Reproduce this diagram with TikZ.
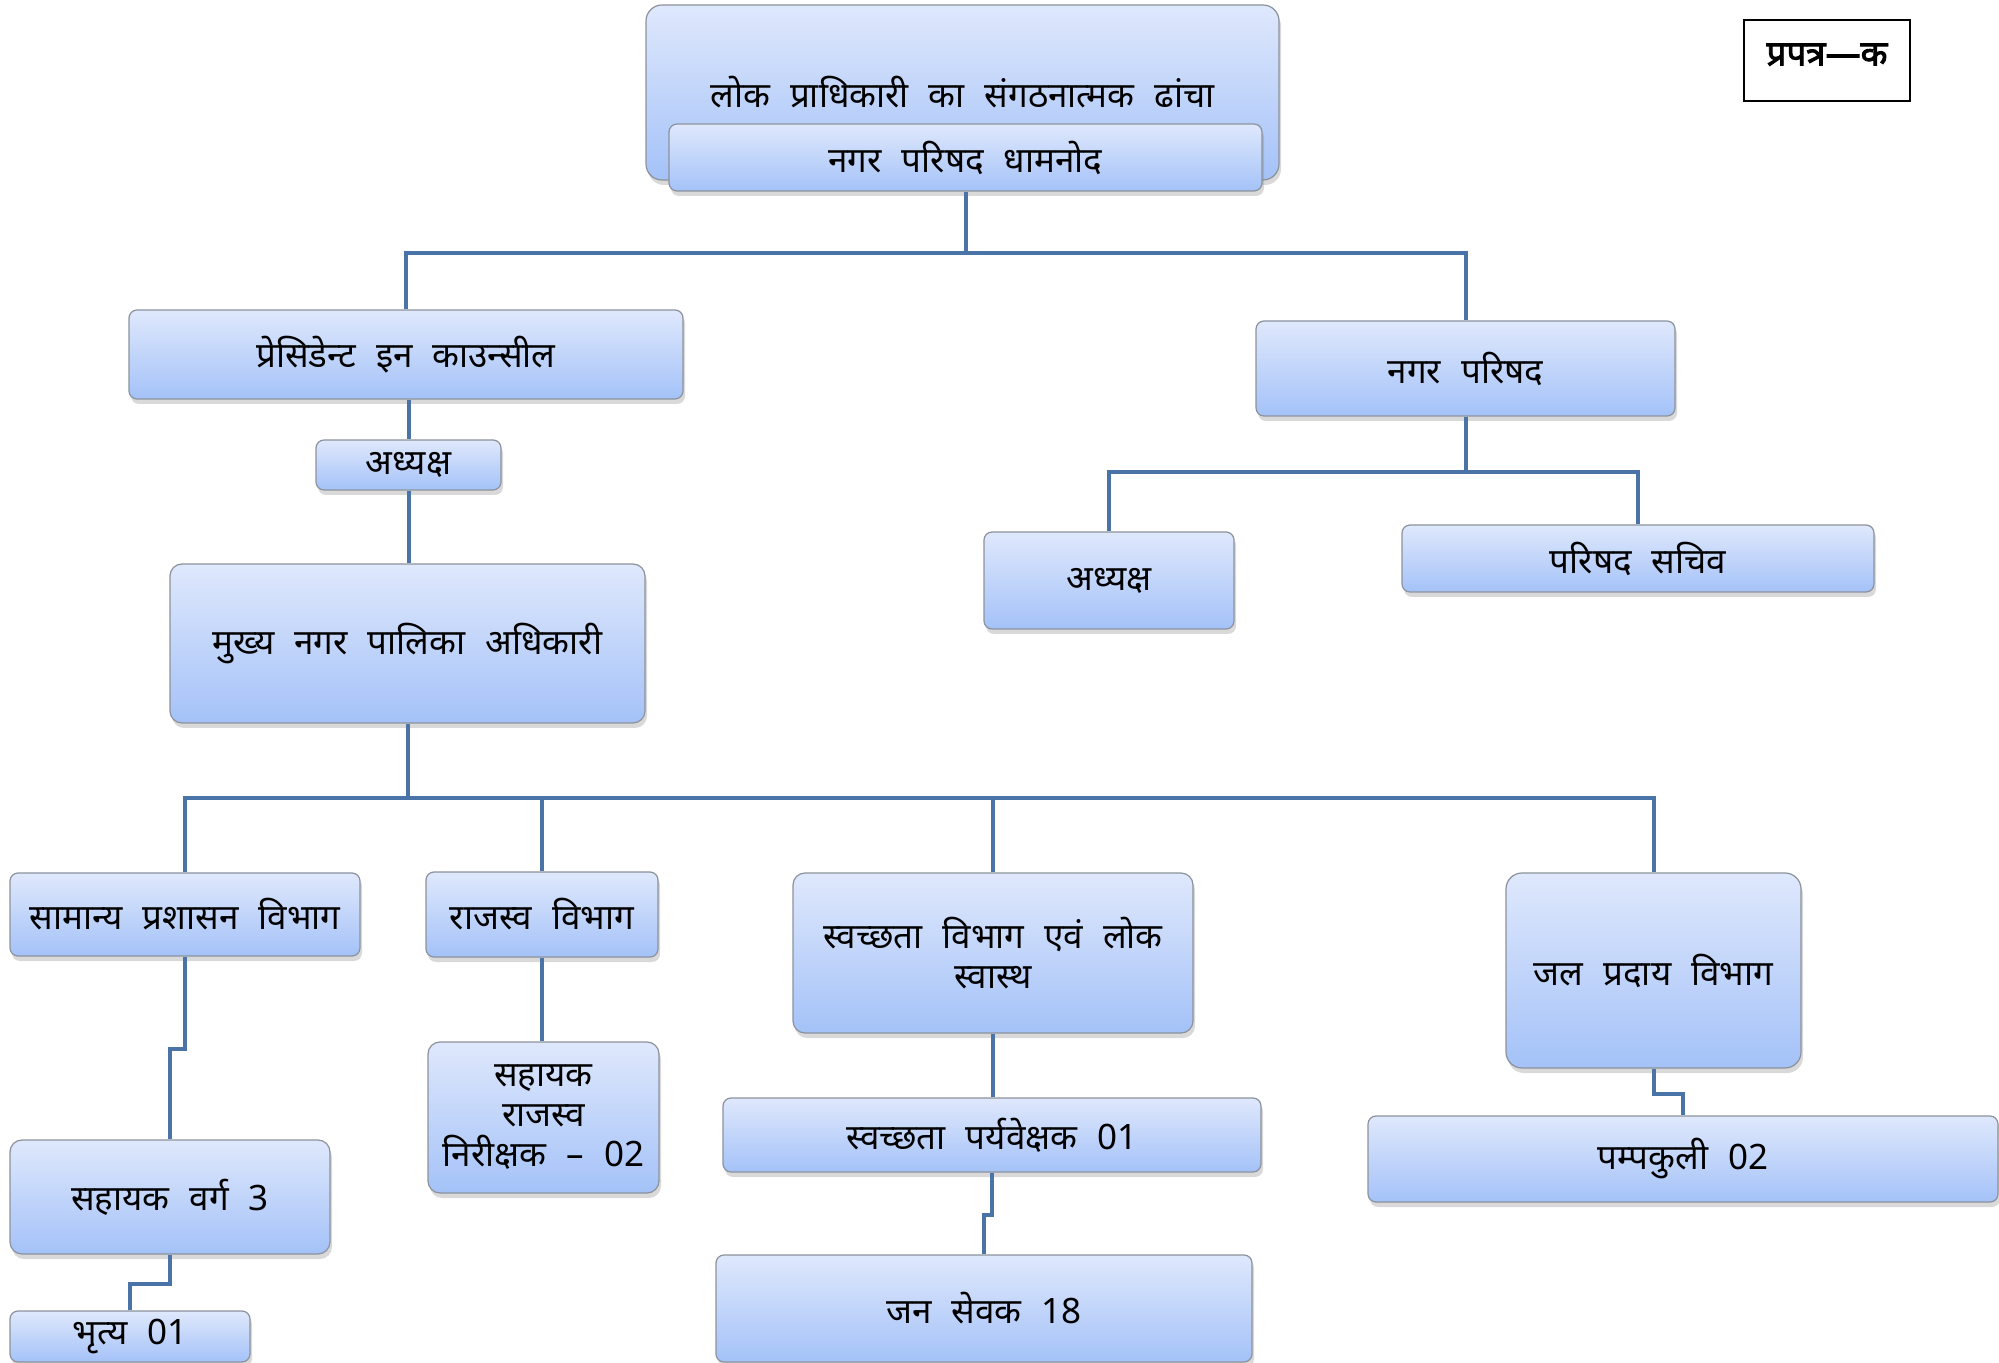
\documentclass[tikz,border=0pt]{standalone}
\usepackage{fontspec}
\setmainfont[Script=Devanagari]{Noto Sans}
\newfontfamily\formfont[Script=Devanagari, FakeBold=2.5]{Noto Sans}
\usetikzlibrary{positioning,shadows}
\definecolor{boxtop}{HTML}{DFE8FC}
\definecolor{boxbot}{HTML}{A4C2F8}
\definecolor{boxline}{HTML}{8C929C}
\definecolor{linkblue}{HTML}{4A73A8}
\newcommand\chartfont{\fontsize{17.5}{20}\selectfont\spaceskip=0.57em plus 0.1em\relax}

\begin{document}
\begin{tikzpicture}[x=0.5pt, y=-0.5pt, font=\chartfont,
    unit/.style={draw=boxline, line width=0.6pt, rounded corners=4pt,
        top color=boxtop, bottom color=boxbot, align=center, inner sep=2pt,
        drop shadow={opacity=0.3, shadow xshift=1pt, shadow yshift=-2.5pt}},
    link/.style={draw=linkblue, line width=2pt}]
    \useasboundingbox (0,0) rectangle (1999,1363);
    % top
    \node[unit, rounded corners=8pt, minimum width=316.5pt, minimum height=87.5pt](head) at (962.5,92.5) {लोक प्राधिकारी का संगठनात्मक ढांचा};
    \node[unit, minimum width=296.5pt, minimum height=33.5pt](sub) at (965.5,157.5) {नगर परिषद धामनोद};
    \node[draw, line width=1pt, minimum width=83pt, minimum height=40.5pt, text depth=6pt](form) at (1827,60.5) {\formfont प्रपत्र—क};
    % second level
    \node[unit, minimum width=277pt, minimum height=44.5pt](pic) at (406,354.5) {प्रेसिडेन्ट इन काउन्सील};
    \node[unit, minimum width=209.5pt, minimum height=47.5pt](np) at (1465.5,368.5) {नगर परिषद};
    \node[unit, minimum width=92.5pt, minimum height=25pt](adhL) at (408.5,465) {अध्यक्ष};
    \node[unit, minimum width=125pt, minimum height=48.5pt](adhR) at (1109,580.5) {अध्यक्ष};
    \node[unit, minimum width=236pt, minimum height=33.5pt](sachiv) at (1638,558.5) {परिषद सचिव};
    \node[unit, rounded corners=6pt, minimum width=237.5pt, minimum height=79.5pt](cmo) at (407.5,643.5) {मुख्य नगर पालिका अधिकारी};
    % departments
    \node[unit, minimum width=175pt, minimum height=41.5pt](gad) at (185,914.5) {सामान्य प्रशासन विभाग};
    \node[unit, minimum width=116pt, minimum height=42.5pt](rev) at (542,914.5) {राजस्व विभाग};
    \node[unit, rounded corners=6pt, minimum width=200pt, minimum height=80pt](san) at (993,953) {स्वच्छता विभाग एवं लोक\\स्वास्थ};
    \node[unit, rounded corners=8pt, minimum width=147.5pt, minimum height=97.5pt](jal) at (1653.5,970.5) {जल प्रदाय विभाग};
    % staff
    \node[unit, rounded corners=6pt, minimum width=160pt, minimum height=57pt](asst3) at (170,1197) {सहायक वर्ग 3};
    \node[unit, minimum width=120pt, minimum height=25.5pt](bhr) at (130,1336.5) {भृत्य 01};
    \node[unit, rounded corners=6pt, minimum width=115.5pt, minimum height=75.5pt](revasst) at (543.5,1117.5) {सहायक\\राजस्व\\निरीक्षक – 02};
    \node[unit, minimum width=269pt, minimum height=37pt](sup) at (992,1135) {स्वच्छता पर्यवेक्षक 01};
    \node[unit, minimum width=268pt, minimum height=53.5pt](jan) at (984,1308.5) {जन सेवक 18};
    \node[unit, minimum width=315pt, minimum height=43pt](pump) at (1683,1159) {पम्पकुली 02};

    \coordinate (j0) at (965.5,253);
    \coordinate (j1) at (1465.5,472);
    \coordinate (j2) at (407.5,798);
    \draw[link] (sub.south) -- (j0) -| (pic.north);
    \draw[link] (j0) -| (np.north);
    \draw[link] (pic.south -| adhL.north) -- (adhL.north);
    \draw[link] (adhL.south) -- (adhL.south |- cmo.north);
    \draw[link] (np.south) -- (j1) -| (adhR.north);
    \draw[link] (j1) -| (sachiv.north);
    \draw[link] (cmo.south) -- (j2);
    \draw[link] (gad.north) |- (j2) -| (jal.north);
    \draw[link] (rev.north) -- (rev.north |- j2);
    \draw[link] (san.north) -- (san.north |- j2);
    \draw[link] (gad.south) -- ++(0,92) -| (asst3.north);
    \draw[link] (asst3.south) -- ++(0,29) -| (bhr.north);
    \draw[link] (rev.south) -- (rev.south |- revasst.north);
    \draw[link] (san.south) -- (san.south |- sup.north);
    \draw[link] (sup.south) -- ++(0,42) -| (jan.north);
    \draw[link] (jal.south) -- ++(0,25) -| (pump.north);
\end{tikzpicture}
\end{document}
